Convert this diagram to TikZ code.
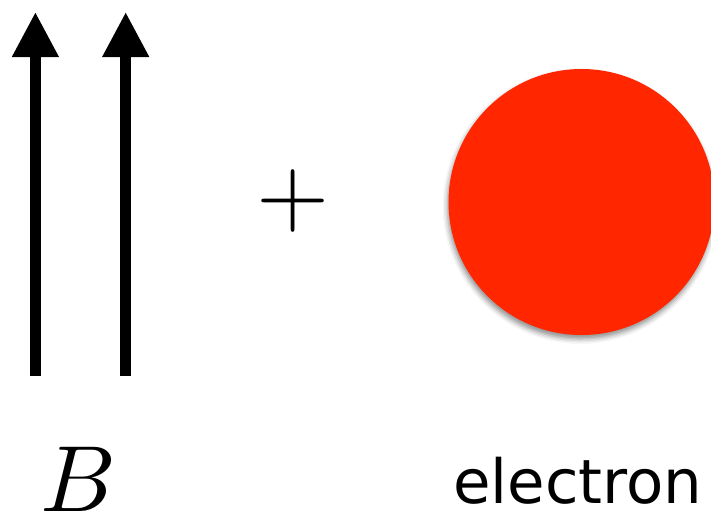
\documentclass[tikz,border=0pt]{standalone}
\usepackage{fontspec}
\newfontfamily\labelfont{DejaVu Sans}
\usetikzlibrary{arrows.meta, shadows.blur}
\definecolor{electronred}{RGB}{255,38,0}
\newcommand{\bigmath}[1]{\scalebox{9.4}{$#1$}}

\begin{document}
\begin{tikzpicture}[
    x=1pt, y=-1pt,
    line join=round,
    field/.style={-{Triangle[length=45pt, width=44pt]}, line width=10.5pt, black},
    particle/.style={circle, fill=electronred, minimum size=266pt, inner sep=0pt,
      blur shadow={shadow xshift=-1pt, shadow yshift=-4pt, shadow blur radius=5pt, shadow opacity=45}},
    mathlabel/.style={font=\fontsize{10}{12}\selectfont, inner sep=0pt},
    namelabel/.style={font=\labelfont\fontsize{61}{70}\selectfont, inner sep=0pt, anchor=base}
]

  % ==================== PARAMETERS ====================
  \def\yTail{376}   % bottom of the field lines
  \def\yTip{12}     % tip of the arrow heads

  \useasboundingbox (0,0) rectangle (711,515);

  % ==================== 1. FIELD LINES B ====================
  \foreach \i/\x in {1/35.4, 2/125.7}{
      \coordinate (tail\i) at (\x, \yTail);
      \coordinate (tip\i) at (\x, \yTip);
      \draw[field] (tail\i) -- (tip\i);
  }
  \node[mathlabel, anchor=base] (fieldname) at (79, 511.7) {\bigmath{B}};

  % ==================== 2. PLUS ====================
  \node[mathlabel] (plus) at (293, 201) {\bigmath{+}};

  % ==================== 3. ELECTRON ====================
  \node[particle] (electron) at (581.5, 202) {};
  \node[namelabel] (electronname) at (578, 503) {electron};

\end{tikzpicture}
\end{document}
